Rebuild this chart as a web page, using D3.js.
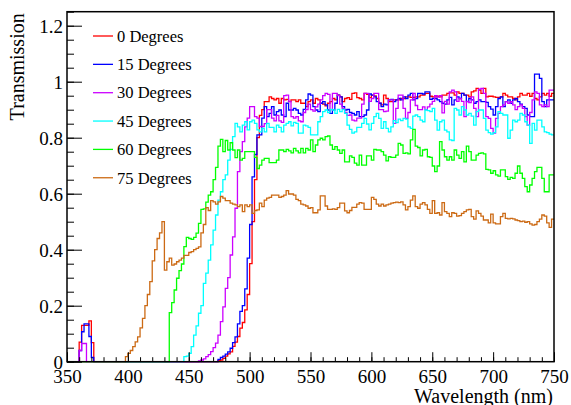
<!DOCTYPE html>
<html>
<head>
<meta charset="utf-8">
<script src="https://cdn.jsdelivr.net/npm/d3@7/dist/d3.min.js"></script>
<style>
  html, body { margin: 0; padding: 0; background: #fff; }
  svg { display: block; }
  svg text { font-family: "Liberation Serif", "Tinos", "Times New Roman", Times, serif !important; fill: #000; }
</style>
</head>
<body>
<svg id="chart" width="571" height="405"></svg>
<script>
// ---- data: 2 nm bins from 350 nm to 750 nm (200 bins), ten bins (20 nm) per row ----
const binStart = 350;
const binWidth = 2;

const labels = ["0 Degrees", "15 Degrees", "30 Degrees", "45 Degrees", "60 Degrees", "75 Degrees"];
const colors = ["#ff0000", "#0000ff", "#cc00ff", "#00ffff", "#00ff00", "#cc6a14"];

const xTicks = [350, 400, 450, 500, 550, 600, 650, 700, 750];
const yTicks = [0, 0.2, 0.4, 0.6, 0.8, 1, 1.2];
const yTickLabels = ["0", "0.2", "0.4", "0.6", "0.8", "1", "1.2"];

const deg0 = [
  0,0,0,0,0,0.07,0.13,0.13,0.13,0.146,
  0.068,0,0,0,0,0,0,0,0,0,
  0,0,0,0,0,0,0,0,0,0,
  0,0,0,0,0,0,0,0,0,0,
  0,0,0,0,0,0,0,0,0,0,
  0,0,0,0,0,0,0,0,0,0,
  0,0,0.004,0.006,0.012,0.02,0.028,0.035,0.055,0.07,
  0.09,0.12,0.14,0.185,0.24,0.35,0.5,0.65,0.8,0.88,
  0.9,0.929,0.929,0.946,0.94,0.935,0.94,0.923,0.94,0.935,
  0.937,0.929,0.935,0.935,0.929,0.935,0.923,0.923,0.911,0.929,
  0.935,0.923,0.94,0.935,0.923,0.92,0.914,0.923,0.929,0.94,
  0.935,0.952,0.946,0.929,0.94,0.943,0.937,0.958,0.96,0.943,
  0.94,0.935,0.958,0.955,0.943,0.952,0.949,0.94,0.923,0.917,
  0.952,0.94,0.929,0.929,0.935,0.935,0.935,0.94,0.94,0.946,
  0.946,0.944,0.944,0.946,0.946,0.952,0.952,0.958,0.958,0.948,
  0.946,0.946,0.948,0.946,0.952,0.952,0.958,0.96,0.96,0.952,
  0.964,0.958,0.958,0.952,0.952,0.946,0.964,0.967,0.976,0.97,
  0.958,0.976,0.946,0.948,0.948,0.946,0.944,0.944,0.946,0.958,
  0.952,0.946,0.946,0.94,0.935,0.946,0.958,0.952,0.952,0.958,
  0.948,0.958,0.94,0.935,0.946,0.958,0.952,0.958,0.948,0.958
];

const deg15 = [
  0,0,0,0,0,0.04,0.107,0.135,0.135,0.09,
  0.015,0,0,0,0,0,0,0,0,0,
  0,0,0,0,0,0,0,0,0,0,
  0,0,0,0,0,0,0,0,0,0,
  0,0,0,0,0,0,0,0,0,0,
  0,0,0,0,0,0,0,0,0,0,
  0,0,0.008,0.015,0.02,0.027,0.035,0.048,0.068,0.089,
  0.135,0.18,0.2,0.26,0.37,0.49,0.66,0.74,0.81,0.81,
  0.87,0.911,0.875,0.887,0.911,0.881,0.893,0.899,0.881,0.875,
  0.923,0.899,0.899,0.905,0.899,0.887,0.881,0.901,0.935,0.956,
  0.952,0.911,0.899,0.893,0.923,0.929,0.917,0.899,0.887,0.899,
  0.923,0.952,0.946,0.911,0.899,0.901,0.89,0.887,0.881,0.893,
  0.875,0.875,0.881,0.899,0.956,0.952,0.946,0.929,0.923,0.911,
  0.92,0.917,0.935,0.937,0.929,0.935,0.94,0.935,0.946,0.94,
  0.952,0.958,0.935,0.94,0.958,0.958,0.956,0.964,0.964,0.937,
  0.94,0.94,0.935,0.929,0.923,0.92,0.935,0.944,0.917,0.935,
  0.946,0.94,0.958,0.952,0.929,0.94,0.935,0.923,0.929,0.935,
  0.929,0.929,0.926,0.911,0.902,0.881,0.911,0.94,0.946,0.911,
  0.929,0.935,0.923,0.935,0.94,0.929,0.92,0.911,0.905,0.881,
  0.875,0.875,1.027,1.027,1.012,0.929,0.911,0.935,0.935,0.935
];

const deg30 = [
  0,0,0,0,0,0.04,0.065,0.065,0,0,
  0,0,0,0,0,0,0,0,0,0,
  0,0,0,0,0,0,0,0,0,0,
  0,0,0,0,0,0,0,0,0,0,
  0,0,0,0,0,0,0,0,0,0,
  0,0,0,0,0.003,0.006,0.01,0.018,0.025,0.036,
  0.05,0.066,0.095,0.143,0.196,0.262,0.3,0.381,0.446,0.548,
  0.679,0.75,0.786,0.839,0.87,0.911,0.911,0.875,0.87,0.84,
  0.84,0.85,0.9,0.9,0.87,0.86,0.88,0.86,0.855,0.95,
  0.952,0.93,0.875,0.87,0.875,0.86,0.857,0.89,0.9,0.92,
  0.9,0.895,0.91,0.92,0.935,0.95,0.958,0.955,0.9,0.958,
  0.958,0.95,0.92,0.905,0.89,0.88,0.881,0.863,0.86,0.87,
  0.87,0.92,0.958,0.958,0.93,0.94,0.958,0.958,0.9,0.9,
  0.893,0.895,0.935,0.935,0.851,0.905,0.952,0.952,0.905,0.869,
  0.89,0.935,0.958,0.915,0.9,0.9,0.91,0.9,0.91,0.92,
  0.93,0.95,0.945,0.95,0.889,0.93,0.92,0.964,0.97,0.964,
  0.93,0.94,0.93,0.875,0.93,0.925,0.946,0.905,0.875,0.973,
  0.976,0.958,0.875,0.869,0.833,0.816,0.869,0.887,0.911,0.917,
  0.929,0.923,0.929,0.917,0.9,0.911,0.917,0.905,0.875,0.845,
  0.89,0.935,0.964,0.958,0.917,0.911,0.917,0.911,0.97,0.97
];

const deg45 = [
  0,0,0,0,0,0,0,0,0,0,
  0,0,0,0,0,0,0,0,0,0,
  0,0,0,0,0,0,0,0,0,0,
  0,0,0,0,0,0,0,0,0,0,
  0,0,0,0,0,0,0,0,0.018,0.02,
  0.03,0.054,0.095,0.128,0.173,0.2,0.28,0.316,0.363,0.417,
  0.47,0.524,0.577,0.607,0.65,0.667,0.72,0.758,0.804,0.851,
  0.839,0.821,0.845,0.857,0.828,0.857,0.863,0.851,0.828,0.821,
  0.833,0.821,0.851,0.837,0.837,0.821,0.845,0.837,0.821,0.845,
  0.851,0.857,0.842,0.855,0.851,0.816,0.816,0.845,0.842,0.837,
  0.81,0.81,0.81,0.857,0.875,0.893,0.899,0.89,0.901,0.899,
  0.887,0.901,0.893,0.901,0.887,0.845,0.83,0.816,0.821,0.837,
  0.837,0.851,0.869,0.849,0.828,0.851,0.875,0.887,0.869,0.833,
  0.857,0.833,0.821,0.839,0.861,0.854,0.866,0.861,0.869,0.866,
  0.839,0.833,0.877,0.881,0.875,0.863,0.857,0.899,0.897,0.893,
  0.905,0.863,0.827,0.857,0.863,0.827,0.821,0.792,0.79,0.905,
  0.899,0.881,0.911,0.899,0.881,0.887,0.877,0.845,0.893,0.899,
  0.899,0.869,0.827,0.818,0.813,0.818,0.839,0.893,0.887,0.881,
  0.881,0.798,0.827,0.863,0.857,0.863,0.887,0.881,0.857,0.845,
  0.78,0.851,0.827,0.863,0.863,0.839,0.821,0.818,0.813,0.81
];

const deg60 = [
  0,0,0,0,0,0,0,0,0,0,
  0,0,0,0,0,0,0,0,0,0,
  0,0,0,0,0,0,0,0,0,0,
  0,0,0,0,0,0,0,0,0,0,
  0,0,0.175,0.211,0.256,0.298,0.325,0.349,0.411,0.444,
  0.44,0.437,0.444,0.459,0.494,0.544,0.546,0.57,0.595,0.607,
  0.65,0.694,0.77,0.794,0.75,0.79,0.756,0.782,0.756,0.729,
  0.756,0.72,0.726,0.75,0.75,0.75,0.75,0.73,0.69,0.702,
  0.72,0.726,0.726,0.711,0.711,0.711,0.72,0.756,0.756,0.75,
  0.758,0.753,0.746,0.762,0.753,0.746,0.762,0.746,0.762,0.756,
  0.792,0.75,0.774,0.792,0.798,0.792,0.804,0.806,0.774,0.758,
  0.768,0.756,0.744,0.756,0.714,0.714,0.735,0.73,0.709,0.702,
  0.738,0.702,0.702,0.735,0.735,0.72,0.758,0.756,0.756,0.75,
  0.738,0.717,0.732,0.73,0.73,0.738,0.78,0.774,0.744,0.746,
  0.742,0.792,0.83,0.77,0.765,0.735,0.756,0.758,0.732,0.73,
  0.699,0.679,0.699,0.786,0.756,0.732,0.72,0.732,0.72,0.756,
  0.738,0.726,0.75,0.714,0.77,0.75,0.72,0.72,0.738,0.744,
  0.746,0.742,0.687,0.685,0.673,0.682,0.667,0.663,0.685,0.685,
  0.661,0.651,0.658,0.655,0.673,0.699,0.673,0.655,0.625,0.607,
  0.631,0.655,0.679,0.694,0.694,0.655,0.607,0.607,0.667,0.667
];

const deg75 = [
  0,0,0,0,0,0,0,0,0,0,
  0,0,0,0,0,0,0,0,0,0,
  0,0,0,0,0.018,0.03,0.04,0.054,0.071,0.089,
  0.121,0.155,0.2,0.24,0.286,0.36,0.4,0.44,0.46,0.5,
  0.327,0.357,0.37,0.345,0.349,0.357,0.363,0.37,0.38,0.38,
  0.39,0.393,0.4,0.405,0.41,0.46,0.49,0.55,0.54,0.575,
  0.571,0.563,0.571,0.59,0.584,0.575,0.575,0.566,0.563,0.56,
  0.554,0.56,0.536,0.56,0.554,0.56,0.53,0.54,0.542,0.566,
  0.554,0.577,0.584,0.587,0.595,0.595,0.595,0.587,0.59,0.595,
  0.611,0.599,0.599,0.595,0.58,0.575,0.563,0.56,0.556,0.548,
  0.55,0.532,0.532,0.542,0.592,0.592,0.556,0.544,0.544,0.546,
  0.544,0.55,0.566,0.566,0.539,0.532,0.54,0.551,0.551,0.563,
  0.568,0.566,0.544,0.544,0.544,0.587,0.58,0.563,0.556,0.563,
  0.556,0.56,0.563,0.566,0.568,0.57,0.568,0.571,0.56,0.542,
  0.554,0.577,0.592,0.554,0.548,0.563,0.568,0.56,0.544,0.53,
  0.575,0.53,0.532,0.524,0.568,0.536,0.53,0.518,0.532,0.53,
  0.52,0.522,0.53,0.536,0.542,0.544,0.518,0.509,0.539,0.53,
  0.52,0.506,0.506,0.496,0.527,0.496,0.492,0.492,0.518,0.53,
  0.512,0.51,0.512,0.51,0.506,0.504,0.5,0.502,0.498,0.5,
  0.492,0.488,0.49,0.5,0.509,0.524,0.52,0.496,0.48,0.509
];

const seriesValues = [deg0, deg15, deg30, deg45, deg60, deg75];

// ---- layout ----
const W = 571, H = 405;
const margin = { left: 67, right: 17, top: 11.7, bottom: 43.3 };
const FONT = '"Liberation Serif", "Tinos", "Times New Roman", Times, serif';
const svg = d3.select("#chart");

const x = d3.scaleLinear().domain([350, 750]).range([margin.left, W - margin.right]);
const y = d3.scaleLinear().domain([0, 1.25]).range([H - margin.bottom, margin.top]);

// histogram outlines (drawn in legend order, last on top)
const line = d3.line().x(d => x(d[0])).y(d => y(d[1]));
seriesValues.forEach((vals, i) => {
  const pts = [];
  vals.forEach((v, k) => {
    const lo = binStart + k * binWidth;
    pts.push([lo, v], [lo + binWidth, v]);
  });
  svg.append("path")
    .attr("d", line(pts))
    .attr("fill", "none")
    .attr("stroke", colors[i])
    .attr("stroke-width", 1.3)
    .attr("stroke-linejoin", "miter");
});

// axes (ticks inside the frame, ROOT style)
const y0 = H - margin.bottom;
const gx = svg.append("g").attr("transform", `translate(0,${y0})`);
gx.call(d3.axisBottom(x).tickValues(d3.range(350, 751, 10)).tickSize(-4.5).tickFormat(""));
gx.select(".domain").remove();
const gxM = svg.append("g").attr("transform", `translate(0,${y0})`);
gxM.call(d3.axisBottom(x).tickValues(xTicks).tickSize(-9.5).tickFormat(d3.format("d")).tickPadding(8));
gxM.select(".domain").remove();
gxM.attr("font-family", null);
gxM.selectAll("text").attr("font-size", 19).attr("dy", "0.71em").style("font-family", FONT);

const gy = svg.append("g").attr("transform", `translate(${margin.left},0)`);
gy.call(d3.axisLeft(y).tickValues(d3.range(0, 1.2501, 0.05)).tickSize(-7).tickFormat(""));
gy.select(".domain").remove();
const gyM = svg.append("g").attr("transform", `translate(${margin.left},0)`);
gyM.call(d3.axisLeft(y).tickValues(yTicks).tickSize(-15).tickPadding(4)
  .tickFormat((d, i) => yTickLabels[i]));
gyM.select(".domain").remove();
gyM.attr("font-family", null);
gyM.selectAll("text").attr("font-size", 19).attr("dy", "0.36em").style("font-family", FONT);

svg.selectAll(".tick line").attr("stroke", "#000").attr("stroke-width", 1);

// frame
svg.append("rect")
  .attr("x", margin.left).attr("y", margin.top)
  .attr("width", W - margin.left - margin.right)
  .attr("height", H - margin.top - margin.bottom)
  .attr("fill", "none").attr("stroke", "#000").attr("stroke-width", 1.5);

// axis titles
svg.append("text")
  .attr("transform", `translate(24,${margin.top + 1.6}) rotate(-90)`)
  .attr("text-anchor", "end")
  .attr("font-size", 20)
  .style("font-family", FONT)
  .text("Transmission");
svg.append("text")
  .attr("x", 553).attr("y", 402.5)
  .attr("text-anchor", "end")
  .attr("font-size", 20)
  .style("font-family", FONT)
  .text("Wavelength (nm)");

// legend
const leg = svg.append("g");
labels.forEach((lab, i) => {
  const cy = 36 + i * 28.35;
  leg.append("line")
    .attr("x1", 93).attr("x2", 113).attr("y1", cy).attr("y2", cy)
    .attr("stroke", colors[i]).attr("stroke-width", 1.3);
  leg.append("text")
    .attr("x", 117).attr("y", cy).attr("dy", "0.35em")
    .attr("font-size", 16.5)
    .style("font-family", FONT)
    .text(lab);
});
</script>
</body>
</html>
